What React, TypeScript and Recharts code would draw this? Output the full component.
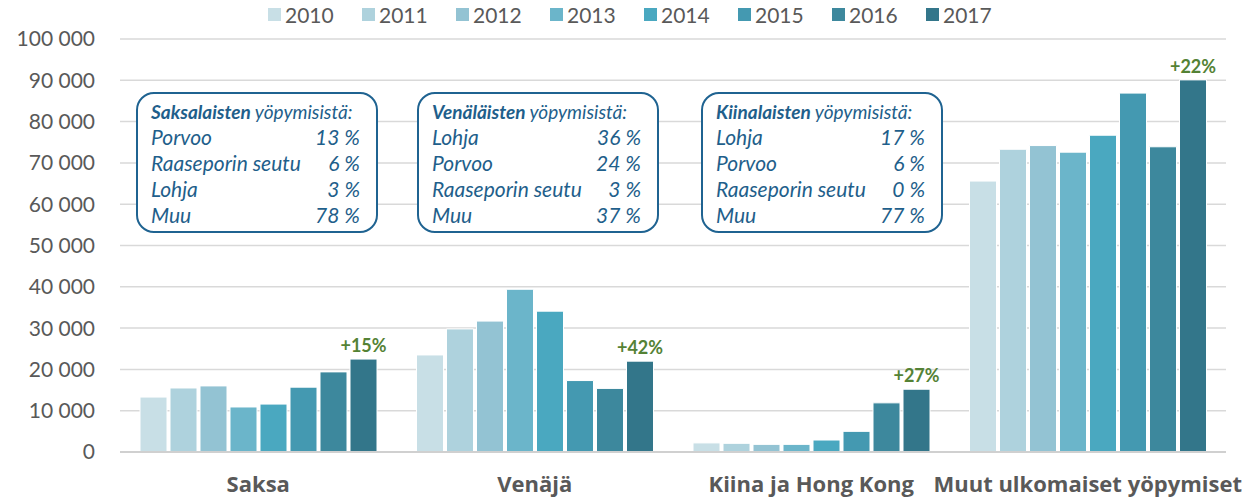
import React from "react";
import {
  BarChart,
  Bar,
  XAxis,
  YAxis,
  CartesianGrid,
  Legend,
  LabelList,
} from "recharts";

const categories = [
  "Saksa",
  "Venäjä",
  "Kiina ja Hong Kong",
  "Muut ulkomaiset yöpymiset",
];
const years = ["2010", "2011", "2012", "2013", "2014", "2015", "2016", "2017"];
const values2010 = [13300, 23500, 2200, 65600];
const values2011 = [15500, 29800, 2100, 73300];
const values2012 = [16000, 31700, 1850, 74200];
const values2013 = [10900, 39400, 1850, 72600];
const values2014 = [11600, 34100, 2900, 76700];
const values2015 = [15700, 17300, 5000, 86900];
const values2016 = [19400, 15400, 11900, 73900];
const values2017 = [22500, 22000, 15200, 90100];
const growth = ["+15%", "+42%", "+27%", "+22%"];
const yTicks = [0, 10000, 20000, 30000, 40000, 50000, 60000, 70000, 80000, 90000, 100000];

const boxTitles = ["Saksalaisten", "Venäläisten", "Kiinalaisten"];
const boxPlaces = [
  ["Porvoo", "Raaseporin seutu", "Lohja", "Muu"],
  ["Lohja", "Porvoo", "Raaseporin seutu", "Muu"],
  ["Lohja", "Porvoo", "Raaseporin seutu", "Muu"],
];
const boxShares = [
  ["13 %", "6 %", "3 %", "78 %"],
  ["36 %", "24 %", "3 %", "37 %"],
  ["17 %", "6 %", "0 %", "77 %"],
];

const colors = [
  "#c8dfe6",
  "#aed2dd",
  "#93c3d3",
  "#6bb5ca",
  "#4aa8c0",
  "#4499b1",
  "#3d889d",
  "#33768a",
];

const series = [
  values2010,
  values2011,
  values2012,
  values2013,
  values2014,
  values2015,
  values2016,
  values2017,
];

const data = categories.map((name, i) => {
  const row: Record<string, string | number> = { name, growth: growth[i] };
  years.forEach((y, j) => {
    row[y] = series[j][i];
  });
  return row;
});

const fmt = (v: number) => String(v).replace(/\B(?=(\d{3})+(?!\d))/g, " ");

const FONT = "Lato, 'Open Sans', sans-serif";
const boxLeft = [136, 417, 701];

const LegendContent = () => (
  <div
    style={{
      display: "flex",
      justifyContent: "flex-start",
      paddingLeft: 268,
      paddingTop: 2,
      fontFamily: FONT,
      fontSize: 21,
      color: "#595959",
    }}
  >
    {years.map((y, i) => (
      <div
        key={y}
        style={{ display: "flex", alignItems: "center", width: 94 }}
      >
        <span
          style={{
            width: 13,
            height: 13,
            background: colors[i],
            marginRight: 4,
            display: "inline-block",
          }}
        />
        <span>{y}</span>
      </div>
    ))}
  </div>
);

const App = () => {
  return (
    <div
      style={{
        position: "absolute",
        left: 0,
        top: 0,
        width: 1245,
        height: 500,
        background: "#fff",
      }}
    >
      <BarChart
        width={1245}
        height={500}
        data={data}
        margin={{ top: 9, right: 19, left: 0, bottom: 0 }}
        barCategoryGap={20}
        barGap={3}
      >
        <CartesianGrid
          vertical={false}
          stroke="#d9d9d9"
          strokeWidth={1.5}
        />
        <Legend
          verticalAlign="top"
          height={30}
          content={<LegendContent />}
          wrapperStyle={{ top: 0 }}
        />
        <XAxis
          dataKey="name"
          height={48}
          tickSize={0}
          tickMargin={24}
          axisLine={{ stroke: "#d0d0d0", strokeWidth: 2 }}
          tick={{
            fontFamily: "'Open Sans', sans-serif",
            fontSize: 22,
            fontWeight: 700,
            fill: "#595959",
          }}
        />
        <YAxis
          width={120}
          domain={[0, 100000]}
          ticks={yTicks}
          tickFormatter={fmt}
          tickSize={0}
          tickMargin={25}
          axisLine={false}
          tickLine={false}
          tick={{ fontFamily: FONT, fontSize: 21, fill: "#595959" }}
        />
        {years.map((y, i) => (
          <Bar
            key={y}
            dataKey={y}
            fill={colors[i]}
            stroke="#ffffff"
            strokeWidth={1}
            isAnimationActive={false}
          >
            {i === years.length - 1 && (
              <LabelList
                dataKey="growth"
                position="top"
                offset={7}
                fill="#548235"
                fontFamily={FONT}
                fontSize={18}
                fontWeight={700}
              />
            )}
          </Bar>
        ))}
      </BarChart>
      {boxTitles.map((t, b) => (
        <div
          key={t}
          style={{
            position: "absolute",
            left: boxLeft[b],
            top: 92,
            width: 242,
            height: 141,
            boxSizing: "border-box",
            border: "2px solid #1f6391",
            borderRadius: 18,
            background: "#fff",
            padding: "6px 16px 0 13px",
            fontFamily: FONT,
            fontStyle: "italic",
            color: "#1f5f8b",
          }}
        >
          <div style={{ fontSize: 19, lineHeight: "24px", whiteSpace: "nowrap" }}>
            <b>{t}</b> yöpymisistä:
          </div>
          {boxPlaces[b].map((p, k) => (
            <div
              key={p}
              style={{
                display: "flex",
                justifyContent: "space-between",
                fontSize: 21,
                lineHeight: "26px",
                whiteSpace: "nowrap",
              }}
            >
              <span>{p}</span>
              <span>{boxShares[b][k]}</span>
            </div>
          ))}
        </div>
      ))}
    </div>
  );
};

export default App;
